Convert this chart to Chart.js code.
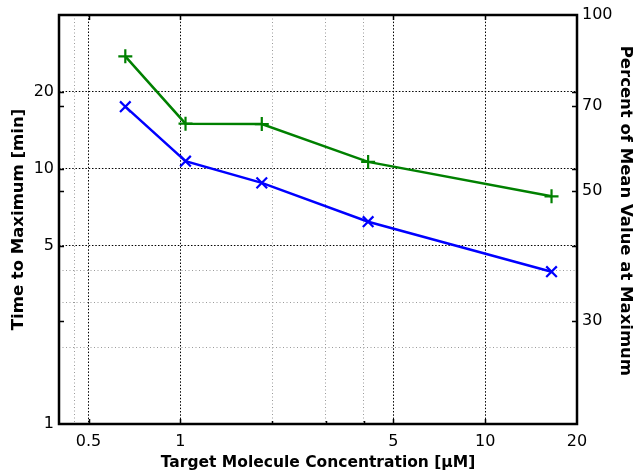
<!DOCTYPE html>
<html><head><meta charset="utf-8">
<script src="https://cdn.jsdelivr.net/npm/chart.js@4/dist/chart.umd.min.js"></script>
<style>html,body{margin:0;padding:0;background:#fff}#wrap{width:636px;height:472px}</style>
</head><body><div id="wrap"><canvas id="c" width="636" height="472"></canvas></div>
<script>
// ---- data ----
const concentration = [0.66, 1.04, 1.85, 4.13, 16.5];
const timeToMax = [17.5, 10.7, 8.8, 6.2, 3.95];
const percentAtMax = [85.0, 65.2, 65.1, 56.1, 49.0];

// ---- tick / grid values ----
const xTickValues = [0.45, 0.5, 1, 2, 3, 4, 5, 10, 20];
const xTickLabels = {0.5: '0.5', 1: '1', 5: '5', 10: '10', 20: '20'};
const xMajorGrid = [0.5, 1, 5, 10];
const xMinorGrid = [0.45, 2, 3, 4];
const yTickValues = [1, 2, 3, 4, 5, 10, 20, 40];
const yTickLabels = {1: '1', 5: '5', 10: '10', 20: '20'};
const yMajorGrid = [5, 10, 20];
const yMinorGrid = [2, 3, 4];
const y2TickValues = [20, 30, 50, 70, 100];
const y2TickLabels = {30: '30', 50: '50', 70: '70', 100: '100'};
const y2Marks = [30, 50, 70];
const xMinorMarks = [2, 3, 4];

const FAM = '"DejaVu Sans", sans-serif';
const tickFont = {family: FAM, size: 16};
const xTitleFont = {family: FAM, size: 15.5, weight: 'bold'};
const yTitleFont = {family: FAM, size: 16.5, weight: 'bold'};

function gridColor(major, minor) {
  return ctx => {
    const v = ctx.tick && ctx.tick.value;
    if (major.includes(v)) return '#000000';
    if (minor.includes(v)) return '#9a9a9a';
    return 'rgba(0,0,0,0)';
  };
}
function gridDash(major) {
  return ctx => {
    const v = ctx.tick && ctx.tick.value;
    return major.includes(v) ? [1.5, 1.8] : [1, 2.5];
  };
}

const framePlugin = {
  id: 'frame',
  afterDatasetsDraw(chart) {
    const {ctx, chartArea: a, scales} = chart;
    ctx.save();
    ctx.strokeStyle = '#000';
    ctx.lineWidth = 1.5;
    ctx.beginPath();
    const L = 5, S = 3;
    xMajorGrid.forEach(v => {
      const p = Math.round(scales.x.getPixelForValue(v)) + 0.5;
      ctx.moveTo(p, a.bottom); ctx.lineTo(p, a.bottom - L);
      ctx.moveTo(p, a.top); ctx.lineTo(p, a.top + L);
    });
    xMinorMarks.forEach(v => {
      const p = Math.round(scales.x.getPixelForValue(v)) + 0.5;
      ctx.moveTo(p, a.bottom); ctx.lineTo(p, a.bottom - S);
    });
    yMajorGrid.forEach(v => {
      const p = Math.round(scales.y.getPixelForValue(v)) + 0.5;
      ctx.moveTo(a.left, p); ctx.lineTo(a.left + L, p);
      ctx.moveTo(a.right, p); ctx.lineTo(a.right - L, p);
    });
    y2Marks.forEach(v => {
      const p = Math.round(scales.y2.getPixelForValue(v)) + 0.5;
      ctx.moveTo(a.left, p); ctx.lineTo(a.left + L, p);
      ctx.moveTo(a.right, p); ctx.lineTo(a.right - L, p);
    });
    ctx.stroke();
    ctx.lineWidth = 2.5;
    ctx.strokeRect(a.left, a.top, a.right - a.left, a.bottom - a.top);
    ctx.restore();
  }
};

new Chart(document.getElementById('c'), {
  type: 'line',
  data: {
    datasets: [
      {
        label: 'Percent of Mean Value at Maximum',
        data: concentration.map((x, i) => ({x, y: percentAtMax[i]})),
        yAxisID: 'y2',
        borderColor: '#008000', backgroundColor: '#008000',
        borderWidth: 2.5, pointStyle: 'cross', pointRadius: 7,
        pointBorderWidth: 2.2, tension: 0
      },
      {
        label: 'Time to Maximum',
        data: concentration.map((x, i) => ({x, y: timeToMax[i]})),
        yAxisID: 'y',
        borderColor: '#0000ff', backgroundColor: '#0000ff',
        borderWidth: 2.5, pointStyle: 'crossRot', pointRadius: 7.5,
        pointBorderWidth: 2.2, tension: 0
      }
    ]
  },
  options: {
    responsive: false, animation: false, devicePixelRatio: 1,
    layout: {padding: {top: 15, left: 0, right: 0, bottom: 0}},
    plugins: {legend: {display: false}, tooltip: {enabled: false}},
    scales: {
      x: {
        type: 'logarithmic', position: 'bottom', min: 0.4, max: 20,
        afterBuildTicks: s => { s.ticks = xTickValues.map(v => ({value: v})); },
        afterFit: s => { s.height = 48; },
        ticks: {autoSkip: false, maxRotation: 0, minRotation: 0, padding: 8,
          color: '#000', font: tickFont, callback: v => xTickLabels[v] ?? ''},
        grid: {drawTicks: false, lineWidth: 1, color: gridColor(xMajorGrid, xMinorGrid)},
        border: {display: false, dash: gridDash(xMajorGrid)},
        title: {display: true, text: 'Target Molecule Concentration [µM]', color: '#000',
          font: xTitleFont, padding: {top: 0, bottom: 0}}
      },
      y: {
        type: 'logarithmic', position: 'left', min: 1, max: 40,
        afterBuildTicks: s => { s.ticks = yTickValues.map(v => ({value: v})); },
        afterFit: s => { s.width = 59; },
        ticks: {autoSkip: false, padding: 5, color: '#000', font: tickFont,
          callback: v => yTickLabels[v] ?? ''},
        grid: {drawTicks: false, lineWidth: 1, color: gridColor(yMajorGrid, yMinorGrid)},
        border: {display: false, dash: gridDash(yMajorGrid)},
        title: {display: true, text: 'Time to Maximum [min]', color: '#000',
          font: yTitleFont, padding: {top: 9, bottom: 0}}
      },
      y2: {
        type: 'logarithmic', position: 'right', min: 20, max: 100,
        afterBuildTicks: s => { s.ticks = y2TickValues.map(v => ({value: v})); },
        afterFit: s => { s.width = 59; },
        ticks: {autoSkip: false, padding: 5, color: '#000', font: tickFont,
          callback: v => y2TickLabels[v] ?? ''},
        grid: {display: false, drawTicks: false},
        border: {display: false},
        title: {display: true, text: 'Percent of Mean Value at Maximum   ', color: '#000',
          font: yTitleFont, padding: {top: 1, bottom: 0}}
      }
    }
  },
  plugins: [framePlugin]
});
</script>
</body></html>
